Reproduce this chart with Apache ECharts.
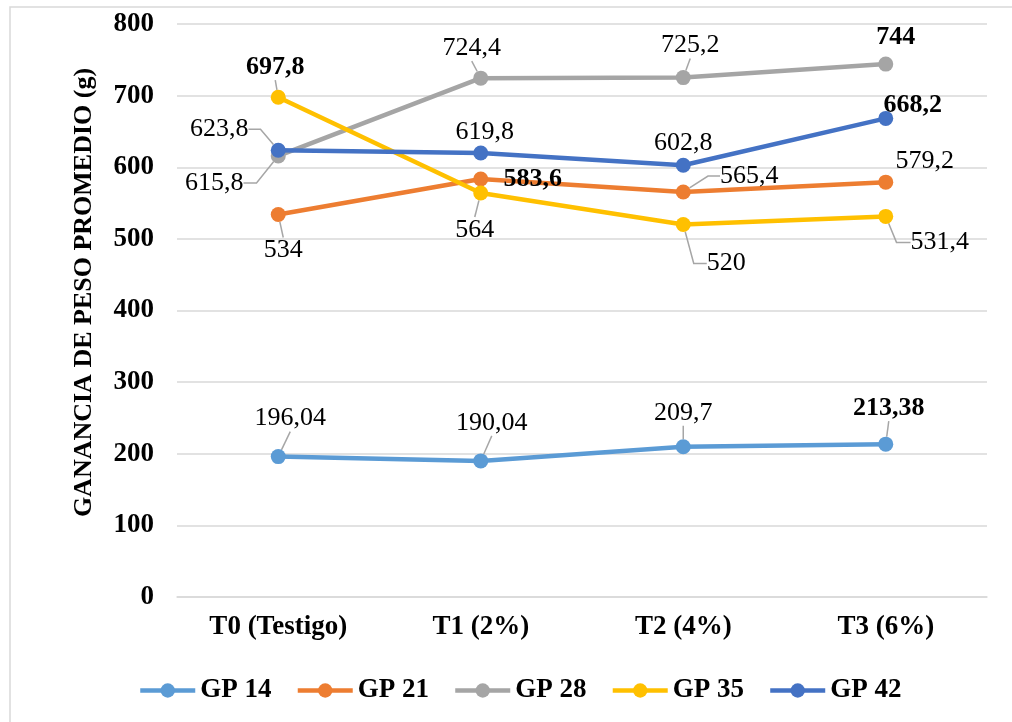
<!DOCTYPE html>
<html>
<head>
<meta charset="utf-8">
<script src="https://cdn.jsdelivr.net/npm/echarts@6/dist/echarts.min.js"></script>
<style>
  html, body { margin: 0; padding: 0; background: #fff; }
  #chart { width: 1012px; height: 722px; }
</style>
</head>
<body>
<div id="chart"></div>
<script>
// Treatments on the x axis
const categories = ['T0 (Testigo)', 'T1 (2%)', 'T2 (4%)', 'T3 (6%)'];
// Y axis scale
const yMin = 0;
const yMax = 800;
const yStep = 100;
const yTitle = 'GANANCIA DE PESO PROMEDIO (g)';
// Series names and average weight gain per treatment
const seriesNames = ['GP 14', 'GP 21', 'GP 28', 'GP 35', 'GP 42'];
const gp14 = [196.04, 190.04, 209.7, 213.38];
const gp21 = [534, 583.6, 565.4, 579.2];
const gp28 = [615.8, 724.4, 725.2, 744];
const gp35 = [697.8, 564, 520, 531.4];
const gp42 = [623.8, 619.8, 602.8, 668.2];

const seriesValues = [gp14, gp21, gp28, gp35, gp42];
const colors = ['#5B9BD5', '#ED7D31', '#A5A5A5', '#FFC000', '#4472C4'];

// Label placement relative to each point: [dx, dy, leader length2 (-1 = no leader)]
const labelShift = [
  [[12, -38, 0], [11, -38, 0], [0, -34, 0], [3, -36, 0]],
  [[5, 36, 0], [52, 0, -1], [66, -16, 12], [39, -21, -1]],
  [[-64, 27, 13], [-9, -30, 0], [7, -32, 0], [10, -27, -1]],
  [[-3, -30, 0], [-6, 37, 0], [43, 39, 13], [54, 26, 14]],
  [[-59, -21, 12], [4, -21, -1], [0, -22, -1], [27, -13, -1]]
];

const FONT = "'Liberation Serif', 'Times New Roman', serif";
const fmt = v => String(v).replace('.', ',');

const chart = echarts.init(document.getElementById('chart'), null, { renderer: 'canvas' });

const series = seriesValues.map((vals, si) => {
  const top = Math.max(...vals);
  return {
    name: seriesNames[si],
    type: 'line',
    symbol: 'circle',
    symbolSize: 15,
    z: 2 + si,
    lineStyle: { width: 4.5, color: colors[si] },
    itemStyle: { color: colors[si] },
    emphasis: { disabled: true },
    label: {
      show: true,
      position: 'inside',
      fontFamily: FONT,
      fontSize: 26,
      color: '#000',
      padding: [3, 8],
      formatter: p => fmt(p.value)
    },
    labelLine: {
      show: false,
      lineStyle: { color: '#A6A6A6', width: 1.5 }
    },
    labelLayout: params => {
      const s = labelShift[si][params.dataIndex];
      return { dx: s[0], dy: s[1] };
    },
    data: vals.map((v, i) => {
      const len = labelShift[si][i][2];
      return {
        value: v,
        label: { fontWeight: v === top ? 'bold' : 'normal' },
        labelLine: {
          show: len >= 0,
          length2: Math.max(len, 0),
          lineStyle: { color: '#A6A6A6', width: 1.5 }
        }
      };
    })
  };
});

chart.setOption({
  animation: false,
  backgroundColor: '#fff',
  color: colors,
  graphic: [{
    type: 'rect',
    shape: { x: 10, y: 7, width: 1100, height: 800 },
    style: { fill: 'none', stroke: '#D9D9D9', lineWidth: 1.5 },
    silent: true,
    z: -10
  }],
  grid: {
    left: 177, right: 25, top: 24, bottom: 125,
    outerBoundsMode: 'none'
  },
  legend: {
    data: seriesNames,
    left: 138,
    top: 677,
    padding: 0,
    itemWidth: 55,
    itemHeight: 18,
    itemGap: 24,
    lineStyle: { width: 4.5 },
    textStyle: { fontFamily: FONT, fontSize: 27, fontWeight: 'bold', color: '#000' }
  },
  xAxis: {
    type: 'category',
    data: categories,
    boundaryGap: true,
    axisLine: { show: true, lineStyle: { color: '#D9D9D9', width: 1.5 } },
    axisTick: { show: false },
    axisLabel: {
      margin: 17,
      fontFamily: FONT, fontSize: 27, fontWeight: 'bold', color: '#000'
    }
  },
  yAxis: {
    type: 'value',
    min: yMin, max: yMax, interval: yStep,
    name: yTitle,
    nameLocation: 'middle',
    nameGap: 80,
    nameTextStyle: {
      fontFamily: FONT, fontSize: 26, fontWeight: 'bold', color: '#000',
      padding: [0, 0, 0, 36]
    },
    axisLine: { show: false },
    axisTick: { show: false },
    splitLine: { lineStyle: { color: '#D9D9D9', width: 1.5 } },
    axisLabel: {
      margin: 23,
      fontFamily: FONT, fontSize: 27, fontWeight: 'bold', color: '#000'
    }
  },
  series: series
});
</script>
</body>
</html>
